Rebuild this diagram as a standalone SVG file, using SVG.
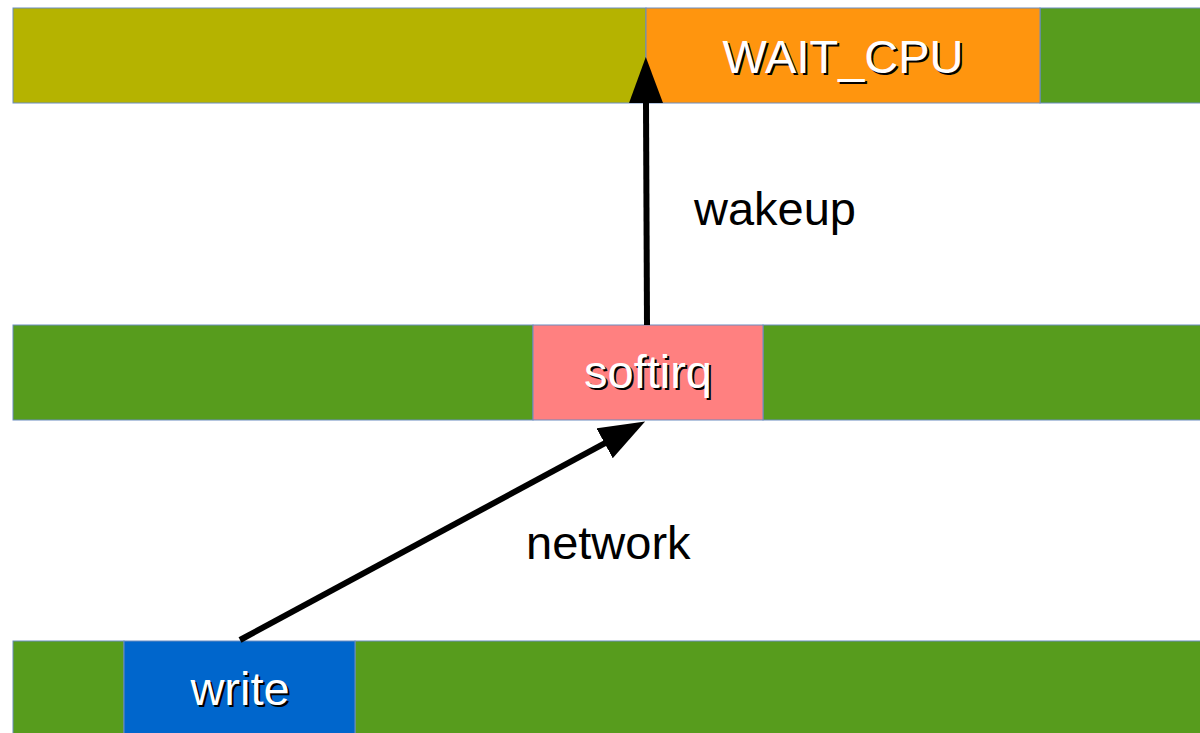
<svg xmlns="http://www.w3.org/2000/svg" width="1200" height="733" viewBox="0 0 1200 733">
<defs>
<style>
.bar{stroke:#6a8cc0;stroke-width:1}
.lbl{font-family:"Liberation Sans",Arial,sans-serif;font-size:47px;text-anchor:middle}
.w{fill:#ffffff}
.s{fill:#000000}
.t{font-family:"Liberation Sans",Arial,sans-serif;font-size:47px;fill:#000000}
.con{stroke:#000;stroke-width:6;fill:none}
</style>
<marker id="ah" markerUnits="userSpaceOnUse" markerWidth="50" markerHeight="36" refX="1" refY="17" orient="auto" viewBox="0 0 50 36">
<path d="M0,0 L46,17 L0,34 Z" fill="#000"/>
</marker>
</defs>
<rect width="1200" height="733" fill="#fff"/>
<g id="lane-top">
<rect class="bar" x="13" y="8" width="633" height="95" fill="#b5b300"/>
<rect class="bar" x="1040" y="8" width="170" height="95" fill="#579c1d"/>
</g>
<g id="wait-cpu">
<rect class="bar" x="646" y="8" width="394" height="95" fill="#ff950e"/>
<text class="lbl s" x="845" y="75">WAIT_CPU</text>
<text class="lbl w" x="843" y="73">WAIT_CPU</text>
</g>
<g id="lane-mid">
<rect class="bar" x="13" y="325" width="520" height="95" fill="#579c1d"/>
<rect class="bar" x="763" y="325" width="447" height="95" fill="#579c1d"/>
</g>
<g id="softirq">
<rect class="bar" x="533" y="325" width="230" height="95" fill="#ff8080"/>
<text class="lbl s" x="650" y="390">softirq</text>
<text class="lbl w" x="648" y="388">softirq</text>
</g>
<g id="lane-bot">
<rect class="bar" x="13" y="641" width="111" height="100" fill="#579c1d"/>
<rect class="bar" x="355" y="641" width="855" height="100" fill="#579c1d"/>
</g>
<g id="write">
<rect class="bar" x="124" y="641" width="231" height="100" fill="#0066cc"/>
<text class="lbl s" x="242" y="707">write</text>
<text class="lbl w" x="240" y="705">write</text>
</g>
<g id="connectors">
<line class="con" x1="647" y1="325" x2="646" y2="102" marker-end="url(#ah)"/>
<line class="con" x1="240" y1="640" x2="605.5" y2="442.8" marker-end="url(#ah)"/>
</g>
<g id="labels">
<text class="t" x="694" y="225">wakeup</text>
<text class="t" x="526" y="559">network</text>
</g>
</svg>
